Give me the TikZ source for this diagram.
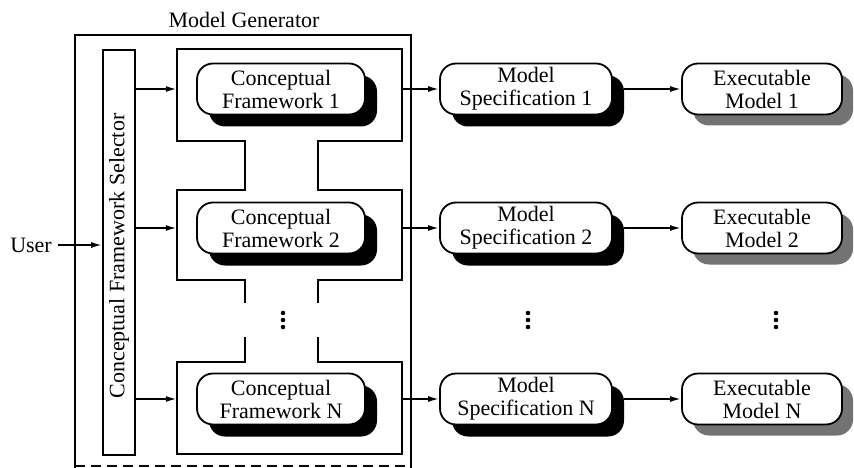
\documentclass[tikz,border=0pt]{standalone}
\usepackage{fontspec}
\setmainfont{Liberation Serif}
\usetikzlibrary{arrows.meta}
\begin{document}
\begin{tikzpicture}[x=1pt,y=-1pt,
  ln/.style={line width=1.8pt},
  arr/.style={ln,-{Latex[length=11pt,width=6pt]}},
  lbl/.style={font=\fontsize{22}{23}\selectfont, inner sep=0pt},
  rbox/.style={ln, draw, fill=white, rounded corners=16pt, align=center,
    font=\fontsize{22}{23}\selectfont, minimum height=51pt, inner sep=0pt},
  fwbox/.style={rbox, minimum width=168pt},
  spbox/.style={rbox, minimum width=172pt},
  exbox/.style={rbox, minimum width=160pt},
  shad/.style={fill=black, rounded corners=16pt, minimum height=51pt, inner sep=0pt},
  grayshad/.style={shad, fill=black!55},
  cont/.style={minimum width=225pt, inner sep=0pt}
]
\useasboundingbox (0,0) rectangle (854,468);

% title and outer box
\node[lbl] (title) at (244,20) {Model Generator};
\draw[ln] (75,468) -- (75,35) -- (411,35) -- (411,468);
\draw[ln, dash pattern=on 10pt off 6pt] (75,466) -- (411,466);

% selector
\node[ln, draw, minimum width=32pt, minimum height=405pt, inner sep=0pt] (sel) at (119,252.5) {};
\node[lbl, rotate=90] (seltext) at (119,256) {Conceptual Framework Selector};

% user
\node[lbl, anchor=east] (user) at (52,245) {User};
\draw[arr] ([xshift=6pt]user.east) -- (sel.west |- user.east);

% containers (invisible reference nodes)
\node[cont, minimum height=92pt] (box1) at (289.5,95) {};
\node[cont, minimum height=90pt] (box2) at (289.5,235) {};
\node[cont, minimum height=92pt] (boxN) at (289.5,408) {};
\draw[ln] (245,303) -- (245,280) -- (177,280) -- (177,190) -- (245,190) -- (245,141)
  -- (177,141) -- (177,49) -- (402,49) -- (402,141) -- (318,141) -- (318,190)
  -- (402,190) -- (402,280) -- (318,280) -- (318,303);
\draw[ln] (245,337) -- (245,362) -- (177,362) -- (177,454) -- (402,454) -- (402,362)
  -- (318,362) -- (318,337);

% rows
\foreach \r/\y/\t in {1/89/1, 2/228/2, N/399/N}{
  \node[shad, minimum width=168pt] (fw\r s) at (293,\y+12) {};
  \node[fwbox] (fw\r) at (281,\y) {Conceptual\\Framework \t};
  \node[shad, minimum width=172pt] (sp\r s) at (538,\y+12) {};
  \node[spbox] (sp\r) at (526,\y) {Model\\Specification \t};
  \node[grayshad, minimum width=160pt] (ex\r s) at (773,\y+11) {};
  \node[exbox] (ex\r) at (762,\y) {Executable\\Model \t};
  \draw[arr] (sel.east |- fw\r) -- (box\r.west |- fw\r);
  \draw[arr] (box\r.east |- sp\r) -- (sp\r.west);
  \draw[arr] (sp\r s.east |- sp\r) -- (ex\r.west);
}

% continuation dots
\foreach \x in {283,528,776}{
  \foreach \d in {-7,0,7}{
    \fill (\x,320+\d) circle (2.3pt);
  }
}
\end{tikzpicture}
\end{document}
